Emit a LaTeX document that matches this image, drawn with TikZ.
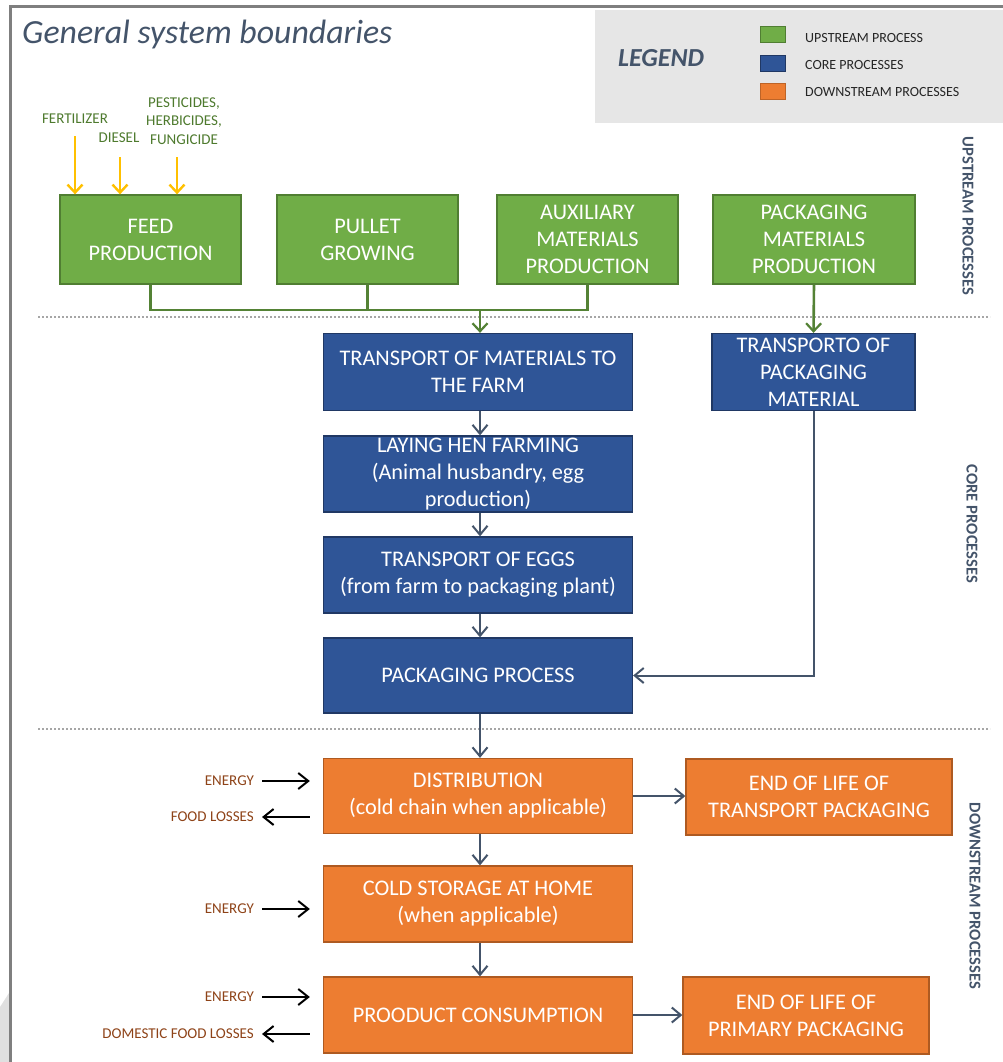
\documentclass[tikz,border=0pt]{standalone}
\usepackage{fontspec}
\setmainfont{Carlito}
\usetikzlibrary{arrows.meta}
\definecolor{gfill}{HTML}{70AD47}
\definecolor{gdraw}{HTML}{507E32}
\definecolor{bfill}{HTML}{2F5597}
\definecolor{bdraw}{HTML}{203864}
\definecolor{ofill}{HTML}{ED7D31}
\definecolor{odraw}{HTML}{AE5A21}
\definecolor{slate}{HTML}{44546A}
\definecolor{gline}{HTML}{548235}
\definecolor{glabel}{HTML}{4E7A2E}
\definecolor{brownlab}{HTML}{8E4318}
\definecolor{yel}{HTML}{FFC000}
\definecolor{legbg}{HTML}{E6E6E6}
\definecolor{framegray}{HTML}{7F7F7F}
\definecolor{dotgray}{HTML}{A6A6A6}
\tikzset{
  procbox/.style={rectangle, line width=1.3pt, inner sep=0pt, align=center, text=white,
    font=\fontsize{22.3}{27}\selectfont},
  upbox/.style={procbox, fill=gfill, draw=gdraw},
  corebox/.style={procbox, fill=bfill, draw=bdraw},
  downbox/.style={procbox, fill=ofill, draw=odraw},
  gconn/.style={draw=gline, line width=2.6pt},
  garrow/.style={gconn, -{Straight Barb[length=8pt,width=15pt,line width=2.2pt]}},
  darrow/.style={draw=slate, line width=2pt, -{Straight Barb[length=9pt,width=15pt,line width=2pt]}},
  barrow/.style={draw=black, line width=2pt, -{Straight Barb[length=10pt,width=16pt,line width=2pt]}},
  yarrow/.style={draw=yel, line width=2.4pt, -{Straight Barb[length=8pt,width=15pt,line width=2.4pt]}},
  inlab/.style={text=glabel, font=\fontsize{15}{18.5}\selectfont, align=center, inner sep=0pt},
  outlab/.style={text=brownlab, font=\fontsize{15}{18}\selectfont, inner sep=0pt, anchor=east},
  sidelab/.style={text=slate, font=\bfseries\fontsize{16.6}{19}\selectfont, rotate=-90, inner sep=0pt},
  leglab/.style={text=black!85, font=\fontsize{14}{16}\selectfont, anchor=west, inner sep=0pt},
  sepline/.style={draw=dotgray, line width=2pt, dash pattern=on 2pt off 2pt}
}
\begin{document}
\begin{tikzpicture}[x=1pt,y=-1pt]
\useasboundingbox (0,0) rectangle (1003,1062);
% frame and shadow
\fill[black!12] (0,1007) -- (9,993) -- (9,1062) -- (0,1062) -- cycle;
\draw[framegray, line width=3pt] (10,1062) -- (10,7) -- (1003,7);
% title
\node[anchor=west, inner sep=0pt, text=slate, font=\itshape\fontsize{33.8}{36}\selectfont] (title) at (22,34) {General system boundaries};
% legend
\fill[legbg] (595,10) rectangle (1003,123);
\node[text=slate, font=\bfseries\itshape\fontsize{26}{28}\selectfont, inner sep=0pt] (legend) at (661,58) {LEGEND};
\node[fill=gfill, draw=gdraw, line width=1pt, minimum width=25, minimum height=16, inner sep=0pt] (lg) at (772.5,35) {};
\node[fill=bfill, draw=bdraw, line width=1pt, minimum width=25, minimum height=16, inner sep=0pt] (lb) at (772.5,64) {};
\node[fill=ofill, draw=ofill!80!black, line width=1pt, minimum width=25, minimum height=16, inner sep=0pt] (lo) at (772.5,91.5) {};
\node[leglab] (lgt) at (805,38) {UPSTREAM PROCESS};
\node[leglab] (lbt) at (805,65) {CORE PROCESSES};
\node[leglab] (lot) at (805,92) {DOWNSTREAM PROCESSES};
% side labels
\node[sidelab] (sup) at (968,216) {UPSTREAM PROCESSES};
\node[sidelab] (score) at (972,524) {CORE PROCESSES};
\node[sidelab] (sdown) at (975,896) {DOWNSTREAM PROCESSES};
% separators
\draw[sepline] (38,317) -- (990,317);
\draw[sepline] (38,729) -- (990,729);
% upstream boxes
\node[upbox, minimum width=181, minimum height=89] (feed) at (150.5,239.5) {FEED\\PRODUCTION};
\node[upbox, minimum width=181, minimum height=89] (pullet) at (367.5,239.5) {PULLET\\GROWING};
\node[upbox, minimum width=181, minimum height=89] (aux) at (587.5,239.5) {AUXILIARY\\MATERIALS\\PRODUCTION};
\node[upbox, minimum width=202, minimum height=89] (pmat) at (814,239.5) {PACKAGING\\MATERIALS\\PRODUCTION};
% inputs to feed
\node[inlab] (fert) at (75,119) {FERTILIZER};
\node[inlab] (dies) at (119,138) {DIESEL};
\node[inlab] (pest) at (184,121) {PESTICIDES,\\HERBICIDES,\\FUNGICIDE};
\coordinate (yf) at (75,136);
\coordinate (yd) at (120,157);
\coordinate (yp) at (177,157);
\draw[yarrow] (yf) -- (yf |- feed.north);
\draw[yarrow] (yd) -- (yd |- feed.north);
\draw[yarrow] (yp) -- (yp |- feed.north);
% core boxes
\node[corebox, minimum width=309, minimum height=77] (tmat) at (478,372) {TRANSPORT OF MATERIALS TO\\THE FARM};
\node[corebox, minimum width=203, minimum height=77] (tpack) at (813.5,372) {TRANSPORTO OF\\PACKAGING\\MATERIAL};
\node[corebox, minimum width=309, minimum height=76] (lay) at (478,474) {LAYING HEN FARMING\\(Animal husbandry, egg\\production)};
\node[corebox, minimum width=309, minimum height=76] (eggs) at (478,575) {TRANSPORT OF EGGS\\(from farm to packaging plant)};
\node[corebox, minimum width=309, minimum height=75] (pproc) at (478,675.5) {PACKAGING PROCESS};
% downstream boxes
\node[downbox, minimum width=309, minimum height=75] (dist) at (478,796) {DISTRIBUTION\\(cold chain when applicable)};
\node[downbox, minimum width=266, minimum height=76] (eolt) at (819,797) {END OF LIFE OF\\TRANSPORT PACKAGING};
\node[downbox, minimum width=309, minimum height=76] (cold) at (478,904) {COLD STORAGE AT HOME\\(when applicable)};
\node[downbox, minimum width=309, minimum height=76] (cons) at (478,1015) {PROODUCT CONSUMPTION};
\node[downbox, minimum width=246, minimum height=77] (eolp) at (806,1015.5) {END OF LIFE OF\\PRIMARY PACKAGING};
% upstream connectors
\coordinate (j) at (480,310);
\draw[gconn] (feed.south) |- (aux.south |- j) -- (aux.south);
\draw[gconn] (pullet.south) -- (pullet.south |- j);
\draw[garrow] (j) -- (j |- tmat.north);
\draw[garrow] (pmat.south) -- (tpack.north);
% core connectors
\draw[darrow] (tmat.south -| j) -- (lay.north -| j);
\draw[darrow] (lay.south -| j) -- (eggs.north -| j);
\draw[darrow] (eggs.south -| j) -- (pproc.north -| j);
\draw[darrow] (tpack.south) |- (pproc.east);
\draw[darrow] (pproc.south -| j) -- (dist.north -| j);
\draw[darrow] (dist.south -| j) -- (cold.north -| j);
\draw[darrow] (cold.south -| j) -- (cons.north -| j);
\draw[darrow] (dist.east) -- (dist.east -| eolt.west);
\draw[darrow] (cons.east) -- (cons.east -| eolp.west);
% side inputs / outputs
\node[outlab] (e1) at (254,781) {ENERGY};
\node[outlab] (fl) at (254,817) {FOOD LOSSES};
\node[outlab] (e2) at (254,909) {ENERGY};
\node[outlab] (e3) at (254,997) {ENERGY};
\node[outlab] (dfl) at (254,1034) {DOMESTIC FOOD LOSSES};
\draw[barrow] ([xshift=8pt]e1.east) -- ([xshift=-13pt]dist.west |- e1.east);
\draw[barrow] ([xshift=-13pt]dist.west |- fl.east) -- ([xshift=8pt]fl.east);
\draw[barrow] ([xshift=8pt]e2.east) -- ([xshift=-13pt]cold.west |- e2.east);
\draw[barrow] ([xshift=8pt]e3.east) -- ([xshift=-13pt]cons.west |- e3.east);
\draw[barrow] ([xshift=-13pt]cons.west |- dfl.east) -- ([xshift=8pt]dfl.east);
\end{tikzpicture}
\end{document}
